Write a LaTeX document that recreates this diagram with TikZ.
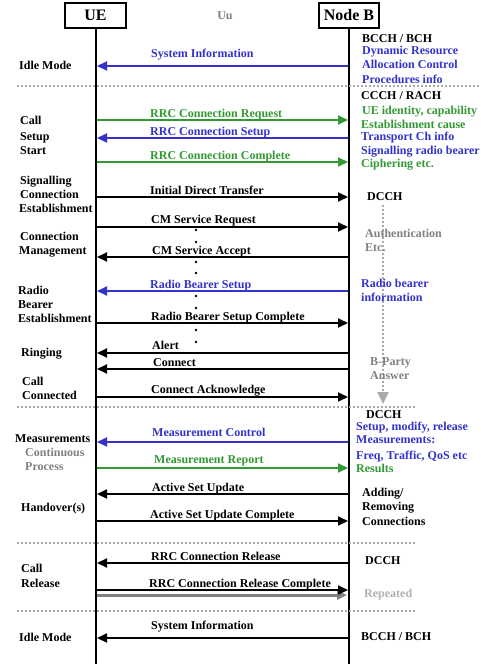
\documentclass[tikz,border=0pt]{standalone}
\usepackage{fontspec}
\setmainfont{Liberation Serif}
\usetikzlibrary{arrows.meta}
\definecolor{myblue}{RGB}{51,51,204}
\definecolor{mygreen}{RGB}{51,153,51}
\definecolor{mygray}{RGB}{128,128,128}
\definecolor{mylgray}{RGB}{176,176,176}
\definecolor{dotgray}{RGB}{170,170,170}
\tikzset{
  txt/.style={anchor=base west, inner sep=0pt, font=\fontsize{12}{14}\selectfont\bfseries},
  head/.style={draw, line width=2pt, minimum height=25pt, inner sep=0pt, font=\fontsize{16}{18}\selectfont\bfseries},
  life/.style={line width=2pt},
  msg/.style={line width=2pt, -{Triangle[length=10pt,width=9pt]}},
  sep/.style={line width=2pt, dotgray, dash pattern=on 2pt off 2pt},
  dot/.style={fill=black}
}
\begin{document}
\begin{tikzpicture}[x=1pt,y=-1pt]
\useasboundingbox (0,0) rectangle (481,664);
\fill[white] (0,0) rectangle (481,664);
% headers
\node[head, minimum width=61pt] (ue) at (95.5,15.5) {UE};
\node[head, minimum width=60pt] (nb) at (349,15.5) {Node B};
\node[txt, text=mygray, anchor=base] (uu) at (225,19) {Uu};
\coordinate (ueB) at (96,664);
\coordinate (nbB) at (349,664);
\draw[life] (ue.south -| ueB) -- (ueB);
\draw[life] (nb.south -| nbB) -- (nbB);
\coordinate (ueL) at (97,0);
\coordinate (nbL) at (348,0);
% separators
\coordinate (s0) at (17,86); \coordinate (e0) at (480,86);
\coordinate (s1) at (17,407); \coordinate (e1) at (415,407);
\coordinate (s2) at (17,543); \coordinate (e2) at (415,543);
\coordinate (s3) at (17,611); \coordinate (e3) at (415,611);
\draw[sep] (s0) -- (e0);
\draw[sep] (s1) -- (e1);
\draw[sep] (s2) -- (e2);
\draw[sep] (s3) -- (e3);
% gray vertical dotted arrow
\coordinate (va) at (383,205); \coordinate (vb) at (383,404);
\draw[line width=2pt, dotgray, dash pattern=on 2pt off 2pt, -{Triangle[length=12pt,width=11pt,fill=dotgray]}] (va) -- (vb);
% messages
\draw[msg, myblue] (nbL |- 0,66) -- (ueL |- 0,66);
\draw[msg, mygreen] (ueL |- 0,120) -- (nbL |- 0,120);
\draw[msg, myblue] (nbL |- 0,138) -- (ueL |- 0,138);
\draw[msg, mygreen] (ueL |- 0,162) -- (nbL |- 0,162);
\draw[msg] (ueL |- 0,197) -- (nbL |- 0,197);
\draw[msg] (ueL |- 0,227) -- (nbL |- 0,227);
\draw[msg] (nbL |- 0,257) -- (ueL |- 0,257);
\draw[msg, myblue] (nbL |- 0,291) -- (ueL |- 0,291);
\draw[msg] (ueL |- 0,323) -- (nbL |- 0,323);
\draw[msg] (nbL |- 0,353) -- (ueL |- 0,353);
\draw[msg] (nbL |- 0,369) -- (ueL |- 0,369);
\draw[msg] (ueL |- 0,397) -- (nbL |- 0,397);
\draw[msg, myblue] (nbL |- 0,442) -- (ueL |- 0,442);
\draw[msg, mygreen] (ueL |- 0,468) -- (nbL |- 0,468);
\draw[msg] (nbL |- 0,494) -- (ueL |- 0,494);
\draw[msg] (ueL |- 0,521) -- (nbL |- 0,521);
\draw[msg] (nbL |- 0,563) -- (ueL |- 0,563);
\draw[line width=3pt, mygray, -{Triangle[length=10pt,width=9pt]}] (ueL |- 0,595) -- ([xshift=-1pt]nbL |- 0,595);
\draw[msg] (ueL |- 0,590) -- (nbL |- 0,590);
\draw[msg] (nbL |- 0,638) -- (ueL |- 0,638);
% dots
\fill[dot] (196,230) circle (1.4); \fill[dot] (196,242) circle (1.4);
\fill[dot] (196,262) circle (1.4); \fill[dot] (196,273) circle (1.4);
\fill[dot] (196,296) circle (1.4); \fill[dot] (196,308) circle (1.4);
\fill[dot] (196,330) circle (1.4); \fill[dot] (196,342) circle (1.4);
% message labels
\node[txt, text=myblue] (m1) at (151,57) {System Information};
\node[txt, text=mygreen] (m2) at (150,117) {RRC Connection Request};
\node[txt, text=myblue] (m3) at (150,135) {RRC Connection Setup};
\node[txt, text=mygreen] (m4) at (150,159) {RRC Connection Complete};
\node[txt] (m5) at (150,194) {Initial Direct Transfer};
\node[txt] (m6) at (151,223) {CM Service Request};
\node[txt] (m7) at (152,254) {CM Service Accept};
\node[txt, text=myblue] (m8) at (150,288) {Radio Bearer Setup};
\node[txt] (m9) at (151,320) {Radio Bearer Setup Complete};
\node[txt] (m10) at (152,349) {Alert};
\node[txt] (m11) at (153,366) {Connect};
\node[txt] (m12) at (151,393) {Connect Acknowledge};
\node[txt, text=myblue] (m13) at (152,436) {Measurement Control};
\node[txt, text=mygreen] (m14) at (154,463) {Measurement Report};
\node[txt] (m15) at (152,491) {Active Set Update};
\node[txt] (m16) at (150,518) {Active Set Update Complete};
\node[txt] (m17) at (151,560) {RRC Connection Release};
\node[txt] (m18) at (149,587) {RRC Connection Release Complete};
\node[txt] (m19) at (151,629) {System Information};
% left labels
\node[txt] (a1) at (19,69) {Idle Mode};
\node[txt] (a2) at (20,124) {Call};
\node[txt] (a3) at (20,140) {Setup};
\node[txt] (a4) at (20,154) {Start};
\node[txt] (a5) at (20,184) {Signalling};
\node[txt] (a6) at (20,198) {Connection};
\node[txt] (a7) at (19,212) {Establishment};
\node[txt] (a8) at (20,240) {Connection};
\node[txt] (a9) at (19,254) {Management};
\node[txt] (a10) at (18,294) {Radio};
\node[txt] (a11) at (18,308) {Bearer};
\node[txt] (a12) at (18,322) {Establishment};
\node[txt] (a13) at (21,356) {Ringing};
\node[txt] (a14) at (22,385) {Call};
\node[txt] (a15) at (22,399) {Connected};
\node[txt] (a16) at (15,442) {Measurements};
\node[txt, text=mygray] (a17) at (25,456) {Continuous};
\node[txt, text=mygray] (a18) at (25,470) {Process};
\node[txt] (a19) at (21,511) {Handover(s)};
\node[txt] (a20) at (21,572) {Call};
\node[txt] (a21) at (21,587) {Release};
\node[txt] (a22) at (19,641) {Idle Mode};
% right labels
\node[txt] (b1) at (362,42) {BCCH / BCH};
\node[txt, text=myblue] (b2) at (362,54) {Dynamic Resource};
\node[txt, text=myblue] (b3) at (362,68) {Allocation Control};
\node[txt, text=myblue] (b4) at (362,83) {Procedures info};
\node[txt] (b5) at (361,99) {CCCH / RACH};
\node[txt, text=mygreen] (b6) at (362,114) {UE identity, capability};
\node[txt, text=mygreen] (b7) at (361,128) {Establishment cause};
\node[txt, text=myblue] (b8) at (361,140) {Transport Ch info};
\node[txt, text=myblue] (b9) at (361,154) {Signalling radio bearer};
\node[txt, text=mygreen] (b10) at (361,167) {Ciphering etc.};
\node[txt] (b11) at (367,200) {DCCH};
\node[txt, text=mygray] (b12) at (365,237) {Authentication};
\node[txt, text=mygray] (b13) at (365,251) {Etc.};
\node[txt, text=myblue] (b14) at (361,287) {Radio bearer};
\node[txt, text=myblue] (b15) at (361,301) {information};
\node[txt, text=mygray] (b16) at (370,365) {B-Party};
\node[txt, text=mygray] (b17) at (370,379) {Answer};
\node[txt] (b18) at (366,418) {DCCH};
\node[txt, text=myblue] (b19) at (356,430) {Setup, modify, release};
\node[txt, text=myblue] (b20) at (356,443) {Measurements:};
\node[txt, text=myblue] (b21) at (356,459) {Freq, Traffic, QoS etc};
\node[txt, text=mygreen] (b22) at (356,472) {Results};
\node[txt] (b23) at (362,496) {Adding/};
\node[txt] (b24) at (362,510) {Removing};
\node[txt] (b25) at (362,525) {Connections};
\node[txt] (b26) at (365,564) {DCCH};
\node[txt, text=mylgray] (b27) at (364,597) {Repeated};
\node[txt] (b28) at (361,640) {BCCH / BCH};
\end{tikzpicture}
\end{document}
